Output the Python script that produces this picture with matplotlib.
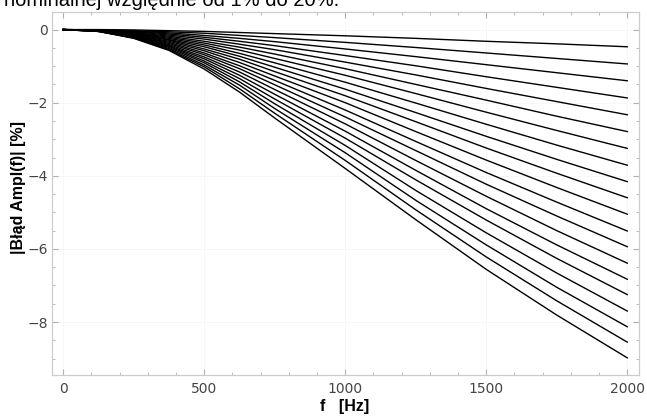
import matplotlib
matplotlib.use('Agg')
from matplotlib import pyplot as plt
from matplotlib.ticker import MultipleLocator

# frequency points (Hz) at which the curves were read
freq = [0, 125, 250, 375, 500, 625, 750, 1000, 1250, 1500, 1750, 2000]

# amplitude error [%] for the 20 curves (1% .. 20%)
err01 = [0, -0.00, -0.01, -0.03, -0.05, -0.08, -0.11, -0.17, -0.24, -0.32, -0.39, -0.47]
err02 = [0, -0.01, -0.03, -0.06, -0.10, -0.16, -0.22, -0.35, -0.49, -0.64, -0.79, -0.94]
err03 = [0, -0.01, -0.04, -0.09, -0.16, -0.24, -0.33, -0.53, -0.74, -0.96, -1.18, -1.40]
err04 = [0, -0.01, -0.05, -0.12, -0.21, -0.32, -0.44, -0.71, -0.99, -1.29, -1.58, -1.87]
err05 = [0, -0.01, -0.06, -0.15, -0.26, -0.40, -0.55, -0.89, -1.24, -1.61, -1.97, -2.33]
err06 = [0, -0.02, -0.08, -0.18, -0.32, -0.48, -0.67, -1.07, -1.50, -1.93, -2.37, -2.79]
err07 = [0, -0.02, -0.09, -0.21, -0.37, -0.56, -0.79, -1.25, -1.75, -2.26, -2.76, -3.25]
err08 = [0, -0.02, -0.10, -0.24, -0.42, -0.65, -0.91, -1.44, -2.01, -2.59, -3.16, -3.71]
err09 = [0, -0.02, -0.11, -0.27, -0.47, -0.73, -1.03, -1.63, -2.27, -2.92, -3.55, -4.16]
err10 = [0, -0.03, -0.12, -0.29, -0.53, -0.81, -1.15, -1.81, -2.52, -3.24, -3.93, -4.60]
err11 = [0, -0.03, -0.14, -0.32, -0.58, -0.90, -1.27, -2.00, -2.79, -3.57, -4.32, -5.05]
err12 = [0, -0.03, -0.15, -0.35, -0.64, -0.99, -1.39, -2.20, -3.06, -3.91, -4.72, -5.51]
err13 = [0, -0.04, -0.16, -0.38, -0.69, -1.07, -1.51, -2.39, -3.31, -4.23, -5.10, -5.94]
err14 = [0, -0.04, -0.17, -0.41, -0.75, -1.16, -1.64, -2.58, -3.58, -4.56, -5.50, -6.39]
err15 = [0, -0.04, -0.18, -0.44, -0.80, -1.25, -1.77, -2.78, -3.85, -4.90, -5.89, -6.83]
err16 = [0, -0.04, -0.20, -0.46, -0.86, -1.34, -1.90, -2.97, -4.11, -5.21, -6.26, -7.25]
err17 = [0, -0.05, -0.21, -0.49, -0.91, -1.43, -2.03, -3.17, -4.40, -5.56, -6.66, -7.70]
err18 = [0, -0.05, -0.22, -0.52, -0.97, -1.52, -2.16, -3.37, -4.67, -5.89, -7.05, -8.13]
err19 = [0, -0.05, -0.23, -0.55, -1.02, -1.62, -2.29, -3.58, -4.93, -6.22, -7.42, -8.55]
err20 = [0, -0.05, -0.24, -0.57, -1.08, -1.71, -2.42, -3.80, -5.20, -6.56, -7.81, -8.98]

curves = [err01, err02, err03, err04, err05, err06, err07, err08, err09, err10,
          err11, err12, err13, err14, err15, err16, err17, err18, err19, err20]

fig = plt.figure(figsize=(6.47, 4.17), dpi=100)
ax = fig.add_axes([0.0799, 0.1007, 0.907, 0.8713])

for c in curves:
    ax.plot(freq, c, color='black', lw=1.0)

ax.set_xlim(-41, 2040)
ax.set_ylim(-9.45, 0.49)

ax.xaxis.set_major_locator(MultipleLocator(500))
ax.xaxis.set_minor_locator(MultipleLocator(100))
ax.yaxis.set_major_locator(MultipleLocator(2))
ax.yaxis.set_minor_locator(MultipleLocator(0.5))

ax.tick_params(which='both', direction='in', top=True, right=True,
               color='#b0b0b0', labelcolor='#444444', labelsize=10)
ax.tick_params(which='major', length=4, width=0.8)
ax.tick_params(which='minor', length=2.5, width=0.6)
ax.tick_params(axis='x', pad=5)
ax.tick_params(axis='y', pad=2.5)

for s in ax.spines.values():
    s.set_color('#cccccc')
    s.set_linewidth(0.9)

ax.grid(True, which='major', color='#f6f6f6', lw=0.6)
ax.set_axisbelow(True)

ax.set_xlabel('f   [Hz]', fontfamily='Liberation Sans', fontweight='bold',
              fontsize=11.5, labelpad=2)
ax.set_ylabel('|Błąd Ampl(f)| [%]', fontfamily='Liberation Sans', fontweight='bold',
              fontsize=11.5)
ax.yaxis.set_label_coords(-0.043, 0.515)

# clipped caption line from the surrounding document
fig.text(0.006, 1 - 6 / 417, 'nominalnej względnie od 1% do 20%.',
         fontfamily='Liberation Sans', fontsize=14.5, va='baseline', ha='left')

fig.savefig('out.png', dpi=100)
